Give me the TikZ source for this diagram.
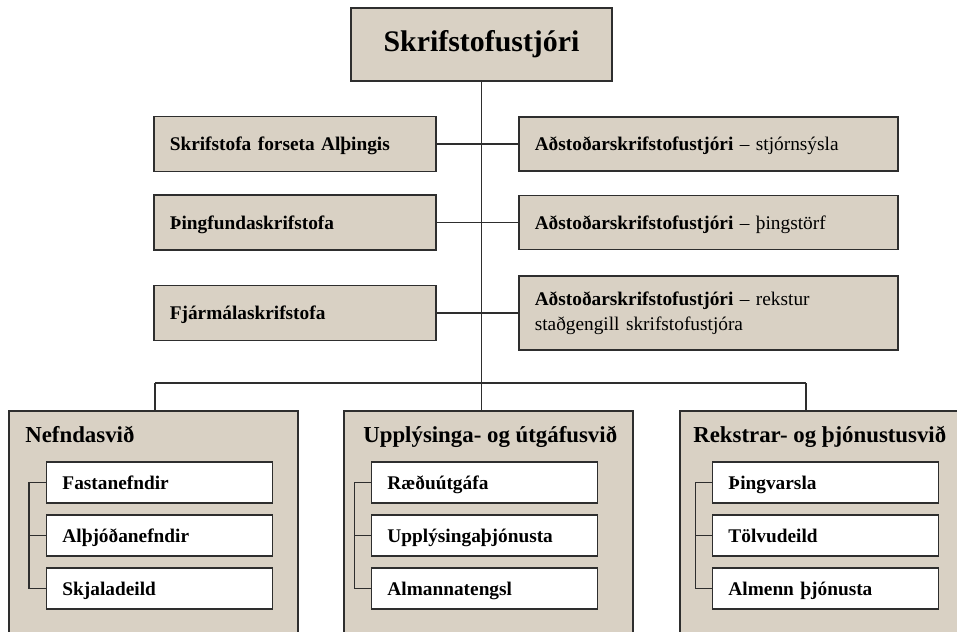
\documentclass[tikz,border=0pt]{standalone}
\usepackage{fontspec}
\setmainfont{Liberation Serif}
\usepackage{xcolor}
\usepackage{tikz}
\usetikzlibrary{positioning,calc}

\definecolor{boxtan}{HTML}{D9D1C4}
\definecolor{lnc}{HTML}{2E2E2E}

\begin{document}
\begin{tikzpicture}[x=0.02cm, y=-0.02cm,
  conn/.style={draw=lnc, line width=0.8pt},
  oneline/.style={text height=2.1ex, text depth=0.45ex},
  topbox/.style={draw=lnc, fill=boxtan, line width=0.9pt, minimum width=5.22cm, minimum height=1.46cm, font=\fontsize{17}{20}\selectfont\bfseries},
  rowbox/.style={draw=lnc, fill=boxtan, line width=0.9pt, anchor=west, inner xsep=0.32cm, align=left, font=\fontsize{11}{14.2}\selectfont},
  leftrow/.style={rowbox, oneline, text width=5.0cm, minimum height=1.1cm, font=\fontsize{11}{14.2}\selectfont\bfseries},
  rightrow/.style={rowbox, text width=6.94cm, minimum height=1.08cm},
  divbox/.style={draw=lnc, fill=boxtan, line width=0.9pt, anchor=north west, minimum width=5.78cm, minimum height=5cm},
  divtitle/.style={anchor=base west, inner sep=0pt, font=\fontsize{13}{16}\selectfont\bfseries},
  subbox/.style={draw=lnc, fill=white, line width=0.9pt, anchor=west, oneline, minimum width=4.52cm, minimum height=0.82cm, inner xsep=0.32cm, text width=3.88cm, align=left, font=\fontsize{11}{14}\selectfont\bfseries}]
\useasboundingbox (0,0) rectangle (957,632);
\clip (0,0) rectangle (957,632);
% --- Top ---
\node[topbox] (chief) at (481.5,44.5) {Skrifstofustjóri};
% --- Staff offices ---
\node[leftrow] (fors) at (153,144) {Skrifstofa forseta Alþingis};
\node[leftrow] (thing) at (153,222.5) {Þingfundaskrifstofa};
\node[leftrow] (fjar) at (153,313) {Fjármálaskrifstofa};
\node[rightrow, oneline] (adst1) at (518,144) {\textbf{Aðstoðarskrifstofustjóri} – stjórnsýsla};
\node[rightrow, oneline] (adst2) at (518,222.5) {\textbf{Aðstoðarskrifstofustjóri} – þingstörf};
\node[rightrow, minimum height=1.48cm] (adst3) at (518,313) {\textbf{Aðstoðarskrifstofustjóri} – rekstur\\staðgengill skrifstofustjóra};
\foreach \a/\b in {fors/adst1, thing/adst2, fjar/adst3}
  \draw[conn] (\a.east) -- (\b.west);
\coordinate (busL) at (155,383);
\coordinate (busR) at (806,383);
\draw[conn] (chief.south) -- (chief.south |- busL);
\draw[conn] (busL) -- (busR);
% --- Divisions ---
\foreach \dv/\dx/\tx/\ix/\tit/\items in {
  nef/8/25/45.7/Nefndasvið/{Fastanefndir,Alþjóðanefndir,Skjaladeild},
  upp/343/363/370.7/Upplýsinga- og útgáfusvið/{Ræðuútgáfa,Upplýsingaþjónusta,Almannatengsl},
  rek/679/693/711.7/Rekstrar- og þjónustusvið/{Þingvarsla,Tölvudeild,Almenn þjónusta}} {
  \node[divbox] (\dv) at (\dx,410) {};
  \node[divtitle] (\dv-t) at (\tx,442) {\tit};
  \foreach \sub [count=\k] in \items {
    \node[subbox] (\dv-\k) at (\ix, 429.5+53*\k) {\sub}; }
  \draw[conn] (\dv-1.west) -- ++(-16.5,0) |- (\dv-3.west);
  \draw[conn] (\dv-2.west) -- ++(-16.5,0);
}
\draw[conn] (busL) -- (busL |- nef.north);
\draw[conn] (chief.south |- busL) -- (chief.south |- upp.north);
\draw[conn] (busR) -- (busR |- rek.north);
\end{tikzpicture}
\end{document}
